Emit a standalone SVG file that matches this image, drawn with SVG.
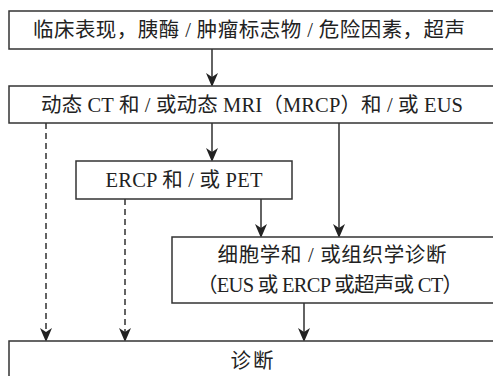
<svg xmlns="http://www.w3.org/2000/svg" width="493" height="376" viewBox="0 0 493 376">
<defs>
<marker id="ah" markerWidth="14" markerHeight="12" refX="12" refY="6" orient="auto" markerUnits="userSpaceOnUse" viewBox="0 0 14 12">
<path d="M0,0 L14,6 L0,12 L4,6 Z" fill="#222"/>
</marker>
</defs>
<style>
.box{fill:#fff;stroke:#333;stroke-width:1.5}
.t{font-family:"Liberation Serif","Noto Sans CJK SC",serif;font-size:20.5px;fill:#222;text-anchor:middle}
.c{stroke:#222;stroke-width:1.4;fill:none}
.d{stroke-dasharray:6,4}
</style>
<rect width="493" height="376" fill="#fff"/>
<g id="connectors">
<line class="c" x1="212" y1="49" x2="212" y2="85" marker-end="url(#ah)"/>
<line class="c" x1="212" y1="123" x2="212" y2="160" marker-end="url(#ah)"/>
<line class="c" x1="339" y1="123" x2="339" y2="236" marker-end="url(#ah)"/>
<line class="c d" x1="46" y1="123" x2="46" y2="340" marker-end="url(#ah)"/>
<line class="c" x1="261" y1="199" x2="261" y2="236" marker-end="url(#ah)"/>
<line class="c d" x1="125" y1="199" x2="125" y2="340" marker-end="url(#ah)"/>
<line class="c" x1="304" y1="303" x2="304" y2="340" marker-end="url(#ah)"/>
</g>
<g id="n1">
<rect class="box" x="9" y="11" width="500" height="38"/>
<text class="t" x="249" y="37" textLength="432" lengthAdjust="spacing">临床表现，胰酶 / 肿瘤标志物 / 危险因素，超声</text>
</g>
<g id="n2">
<rect class="box" x="9" y="86" width="500" height="37"/>
<text class="t" x="252" y="112" textLength="422" lengthAdjust="spacing">动态 CT 和 / 或动态 MRI（MRCP）和 / 或 EUS</text>
</g>
<g id="n3">
<rect class="box" x="76" y="161" width="216" height="38"/>
<text class="t" x="184" y="187" textLength="157" lengthAdjust="spacing">ERCP 和 / 或 PET</text>
</g>
<g id="n4">
<rect class="box" x="172" y="237" width="340" height="66"/>
<text class="t" x="332" y="262" textLength="229" lengthAdjust="spacing">细胞学和 / 或组织学诊断</text>
<text class="t" x="330" y="292" textLength="266" lengthAdjust="spacing">（EUS 或 ERCP 或超声或 CT）</text>
</g>
<g id="n5">
<rect class="box" x="9" y="341" width="500" height="50"/>
<text class="t" x="252" y="368" textLength="43" lengthAdjust="spacing">诊断</text>
</g>
</svg>
